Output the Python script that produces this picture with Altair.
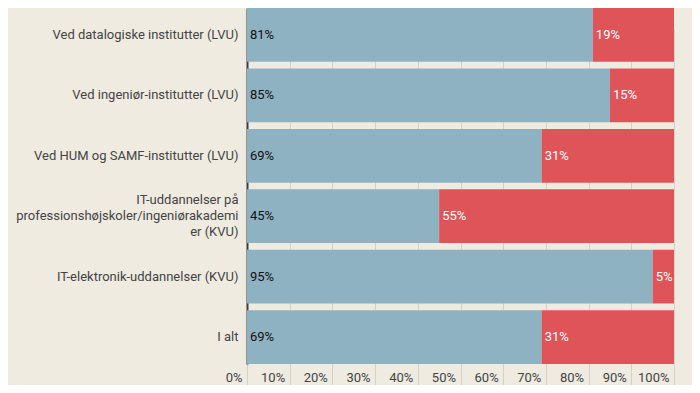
import altair as alt
import pandas as pd

kategorier = [
    "Ved datalogiske institutter (LVU)",
    "Ved ingeniør-institutter (LVU)",
    "Ved HUM og SAMF-institutter (LVU)",
    "IT-uddannelser på professionshøjskoler/ingeniørakademier (KVU)",
    "IT-elektronik-uddannelser (KVU)",
    "I alt",
]
andel_blaa = [81, 85, 69, 45, 95, 69]
andel_roed = [19, 15, 31, 55, 5, 31]
x_ticks = [0, 10, 20, 30, 40, 50, 60, 70, 80, 90, 100]

BLUE = "#8fb2c3"
RED = "#de5458"
BG = "#efebe1"

df = pd.DataFrame({"kategori": kategorier, "a": andel_blaa, "b": andel_roed})
df["slut"] = df["a"] + df["b"]

LONG = "IT-uddannelser på professionshøjskoler/ingeniørakademier (KVU)"
label_expr = (
    f"datum.label == '{LONG}' "
    "? ['IT-uddannelser på', 'professionshøjskoler/ingeniørakademi', 'er (KVU)'] : datum.label"
)

y = alt.Y(
    "kategori:N",
    sort=kategorier,
    scale=alt.Scale(range=[0, 356], paddingInner=0.11, paddingOuter=0),
    axis=alt.Axis(
        title=None,
        domain=True,
        domainColor="#3d3d3d",
        domainWidth=2,
        ticks=False,
        grid=False,
        labelPadding=9,
        labelFont="Roboto",
        labelFontSize=13,
        labelColor="#444444",
        labelLimit=0,
        labelLineHeight=16,
        labelExpr=label_expr,
        labelOffset={"condition": {"test": f"datum.value == '{LONG}'", "value": -16}, "value": 0},
    ),
)

x_scale = alt.Scale(domain=[0, 100], nice=False)
x_axis = alt.Axis(
    title=None,
    values=x_ticks,
    grid=True,
    gridColor="#d6d1c7",
    gridWidth=1,
    domain=False,
    ticks=False,
    labelAlign="right",
    labelBaseline="bottom",
    labelOffset=-5,
    labelPadding=-1,
    labelFont="Roboto",
    labelFontSize=13,
    labelColor="#444444",
    labelExpr="datum.value + '%'",
)

base = alt.Chart(df)

bar_a = base.mark_bar(color=BLUE, cornerRadius=0).encode(
    x=alt.X("a:Q", scale=x_scale, axis=x_axis),
    x2=alt.value(0),
    y=y,
)
bar_b = base.mark_bar(color=RED, cornerRadius=0).encode(
    x=alt.X("a:Q", scale=x_scale),
    x2="slut:Q",
    y=y,
)
txt_a = base.mark_text(
    align="left", baseline="middle", dx=3, font="Roboto", fontSize=13, color="#111111"
).transform_calculate(lbl="datum.a + '%'").encode(
    x=alt.value(0),
    y=y,
    text="lbl:N",
)
txt_b = base.mark_text(
    align="left", baseline="middle", dx=3, font="Roboto", fontSize=13, color="#ffffff"
).transform_calculate(lbl="datum.b + '%'").encode(
    x=alt.X("a:Q", scale=x_scale),
    y=y,
    text="lbl:N",
)

chart = (
    alt.layer(bar_a, bar_b, txt_a, txt_b)
    .properties(
        width=427,
        height=377,
        autosize=alt.AutoSizeParams(type="none"),
        padding={"left": 239, "top": 0, "right": 18, "bottom": 0},
        background=BG,
    )
    .configure_view(stroke=None)
)

chart.save("out.html", embed_options={"renderer": "svg", "actions": False})
